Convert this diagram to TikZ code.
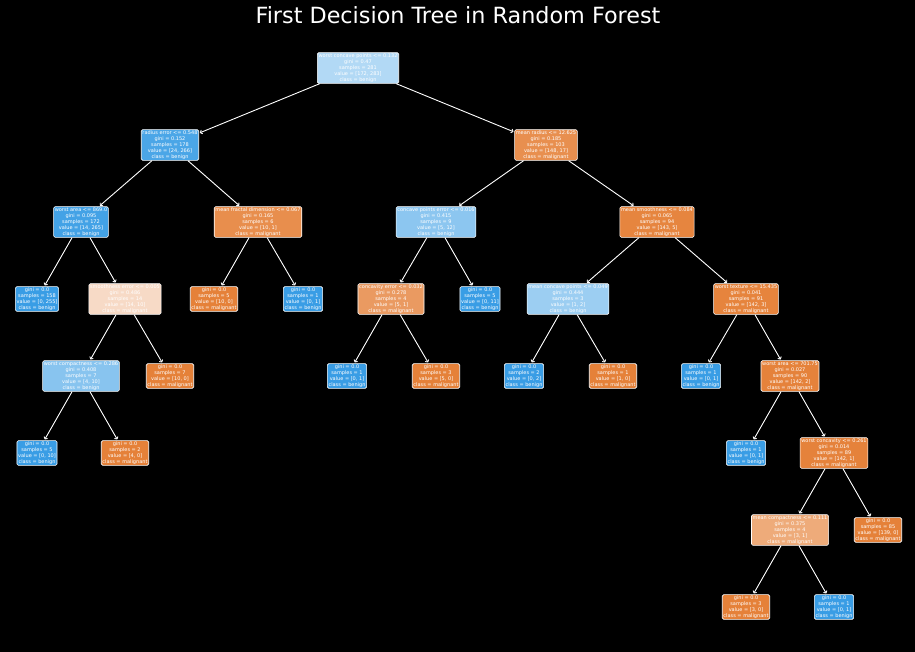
\documentclass[tikz,border=0pt]{standalone}
\usepackage{fontspec}
\setmainfont{DejaVu Sans}
\usepackage{xcolor}
\usetikzlibrary{arrows.meta}
\definecolor{org}{RGB}{229,129,57}
\definecolor{blu}{RGB}{57,157,229}

\begin{document}
\begin{tikzpicture}[x=1pt,y=-1pt,
  box/.style={draw=white,line width=0.6pt,rounded corners=1.5pt,text=white,align=center,
    inner xsep=1.2pt,inner ysep=1pt,font=\fontsize{5}{6}\selectfont},
  arr/.style={white,line width=0.9pt,-{To[length=2.5pt,width=4.5pt]},shorten >=1pt}]
\fill[black] (0,0) rectangle (915,652);
\useasboundingbox (0,0) rectangle (915,652);
\node[text=white,font=\fontsize{22.3}{26}\selectfont] (title) at (458,15) {First Decision Tree in Random Forest};
% split nodes
\node[box,fill=blu!39!white] (root) at (358,68) {worst concave points <= 0.132\\gini = 0.47\\samples = 281\\value = [172, 283]\\class = benign};
\node[box,fill=blu!91!white] (L) at (170,145) {radius error <= 0.548\\gini = 0.152\\samples = 178\\value = [24, 266]\\class = benign};
\node[box,fill=org!89!white] (R) at (546,145) {mean radius <= 12.625\\gini = 0.185\\samples = 103\\value = [148, 17]\\class = malignant};
\node[box,fill=blu!95!white] (LL) at (81,222) {worst area <= 869.0\\gini = 0.095\\samples = 172\\value = [14, 265]\\class = benign};
\node[box,fill=org!90!white] (LR) at (258,222) {mean fractal dimension <= 0.067\\gini = 0.165\\samples = 6\\value = [10, 1]\\class = malignant};
\node[box,fill=blu!58!white] (RL) at (436,222) {concave points error <= 0.016\\gini = 0.415\\samples = 9\\value = [5, 12]\\class = benign};
\node[box,fill=org!97!white] (RR) at (657,222) {mean smoothness <= 0.084\\gini = 0.065\\samples = 94\\value = [143, 5]\\class = malignant};
\node[box,fill=org!29!white] (LLR) at (125,299) {smoothness error <= 0.005\\gini = 0.486\\samples = 14\\value = [14, 10]\\class = malignant};
\node[box,fill=org!80!white] (RLL) at (391,299) {concavity error <= 0.032\\gini = 0.278\\samples = 4\\value = [5, 1]\\class = malignant};
\node[box,fill=blu!50!white] (RRL) at (568,299) {mean concave points <= 0.049\\gini = 0.444\\samples = 3\\value = [1, 2]\\class = benign};
\node[box,fill=org!98!white] (RRR) at (746,299) {worst texture <= 15.435\\gini = 0.041\\samples = 91\\value = [142, 3]\\class = malignant};
\node[box,fill=blu!60!white] (LLRL) at (81,376) {worst compactness <= 0.286\\gini = 0.408\\samples = 7\\value = [4, 10]\\class = benign};
\node[box,fill=org!99!white] (RRRR) at (790,376) {worst area <= 701.75\\gini = 0.027\\samples = 90\\value = [142, 2]\\class = malignant};
\node[box,fill=org!99!white] (RRRRR) at (834,453) {worst concavity <= 0.261\\gini = 0.014\\samples = 89\\value = [142, 1]\\class = malignant};
\node[box,fill=org!67!white] (RRRRRL) at (790,530) {mean compactness <= 0.111\\gini = 0.375\\samples = 4\\value = [3, 1]\\class = malignant};
% leaves
\foreach \n/\x/\y/\col/\s/\v/\k in {
  LLL/37/299/blu/158/{[0, 255]}/benign, LRL/214/299/org/5/{[10, 0]}/malignant,
  LRR/303/299/blu/1/{[0, 1]}/benign, RLR/480/299/blu/5/{[0, 11]}/benign,
  LLRR/170/376/org/7/{[10, 0]}/malignant, RLLL/347/376/blu/1/{[0, 1]}/benign,
  RLLR/436/376/org/3/{[5, 0]}/malignant, RRLL/524/376/blu/2/{[0, 2]}/benign,
  RRLR/613/376/org/1/{[1, 0]}/malignant, RRRL/701/376/blu/1/{[0, 1]}/benign,
  LLRLL/37/453/blu/5/{[0, 10]}/benign, LLRLR/125/453/org/2/{[4, 0]}/malignant,
  RRRRL/746/453/blu/1/{[0, 1]}/benign, RRRRRR/878/530/org/85/{[139, 0]}/malignant,
  RRRRRLL/746/607/org/3/{[3, 0]}/malignant, RRRRRLR/834/607/blu/1/{[0, 1]}/benign}
  {\node[box,fill=\col] (\n) at (\x,\y) {gini = 0.0\\samples = \s\\value = \v\\class = \k};}
% edges
\foreach \a/\b in {root/L,root/R,L/LL,L/LR,R/RL,R/RR,LL/LLL,LL/LLR,LR/LRL,LR/LRR,
  RL/RLL,RL/RLR,RR/RRL,RR/RRR,LLR/LLRL,LLR/LLRR,RLL/RLLL,RLL/RLLR,RRL/RRLL,RRL/RRLR,
  RRR/RRRL,RRR/RRRR,LLRL/LLRLL,LLRL/LLRLR,RRRR/RRRRL,RRRR/RRRRR,RRRRR/RRRRRL,
  RRRRR/RRRRRR,RRRRRL/RRRRRLL,RRRRRL/RRRRRLR}
  {\draw[arr] (\a) -- (\b);}
\end{tikzpicture}
\end{document}
